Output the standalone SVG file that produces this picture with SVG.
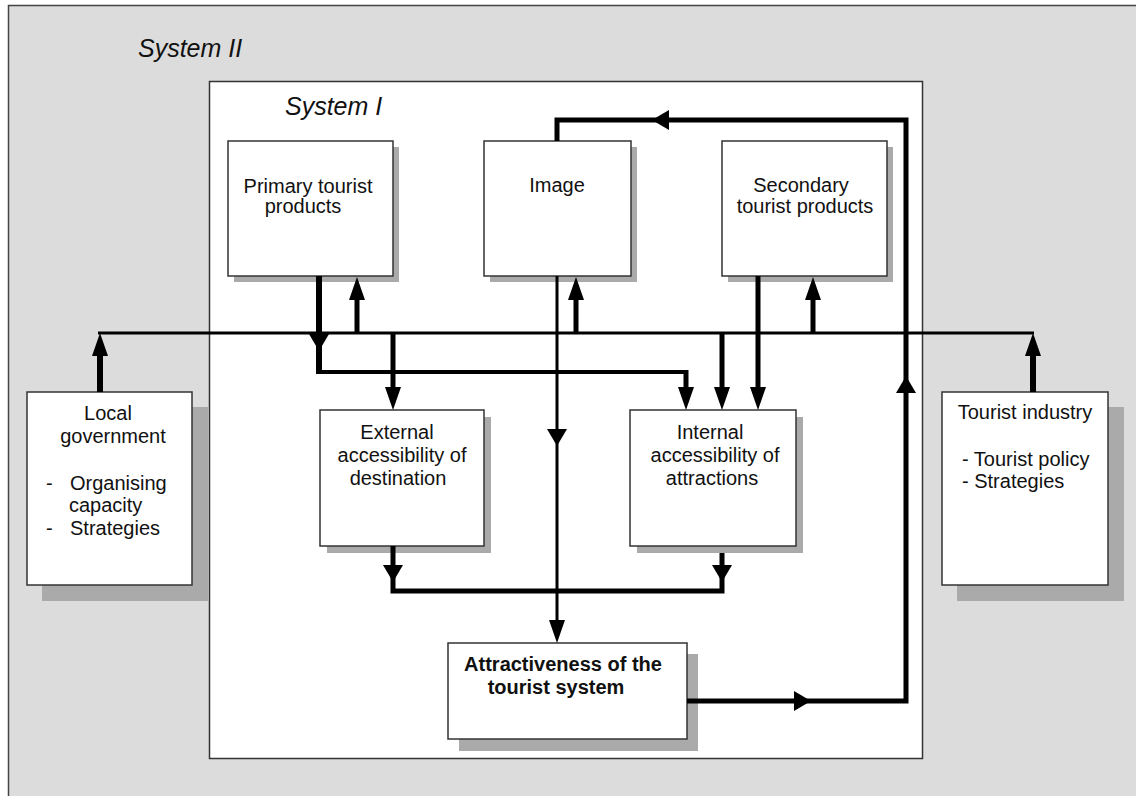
<svg xmlns="http://www.w3.org/2000/svg" xmlns:xlink="http://www.w3.org/1999/xlink" width="1136" height="796" viewBox="0 0 1136 796">
<style>
.t{font-family:"Liberation Sans",Arial,sans-serif;font-size:20px;fill:#111}
.m{text-anchor:middle}
.it{font-family:"Liberation Sans",Arial,sans-serif;font-size:25px;font-style:italic;fill:#111}
.b{font-family:"Liberation Sans",Arial,sans-serif;font-size:20px;font-weight:bold;fill:#111;text-anchor:middle}
.box{fill:#fff;stroke:#333;stroke-width:1.5}
.sh{fill:#aaaaaa}
.ln{stroke:#000;fill:none;stroke-linecap:butt}
</style>
<defs>
<path id="ah" d="M0,0 L-8,-23 L8,-23 Z" fill="#000"/>
<path id="am" d="M0,0 L-10,-17 L10,-17 Z" fill="#000"/>
</defs>
<rect x="8.5" y="5.5" width="1140" height="800" fill="#dcdcdc" stroke="#444" stroke-width="1.5"/>
<text class="it" x="138" y="57">System II</text>
<g id="system1">
<rect x="209.5" y="81.5" width="713" height="677" fill="#fff" stroke="#333" stroke-width="1.5"/>
<text class="it" x="285" y="115">System I</text>
</g>
<g id="primary">
<rect class="sh" x="234" y="147" width="165" height="135"/>
<rect class="box" x="228" y="141" width="165" height="135"/>
<text class="t m" x="308" y="193">Primary tourist</text>
<text class="t m" x="303" y="213">products</text>
</g>
<g id="image">
<rect class="sh" x="490" y="147" width="147" height="135"/>
<rect class="box" x="484" y="141" width="147" height="135"/>
<text class="t m" x="557" y="192">Image</text>
</g>
<g id="secondary">
<rect class="sh" x="728" y="147" width="165" height="135"/>
<rect class="box" x="722" y="141" width="165" height="135"/>
<text class="t m" x="801" y="192">Secondary</text>
<text class="t m" x="805" y="213">tourist products</text>
</g>
<g id="external">
<rect class="sh" x="327" y="417" width="164" height="136"/>
<rect class="box" x="320" y="410" width="164" height="136"/>
<text class="t m" x="397" y="439">External</text>
<text class="t m" x="402" y="462">accessibility of</text>
<text class="t m" x="398" y="485">destination</text>
</g>
<g id="internal">
<rect class="sh" x="637" y="417" width="166" height="136"/>
<rect class="box" x="630" y="410" width="166" height="136"/>
<text class="t m" x="710" y="439">Internal</text>
<text class="t m" x="715" y="462">accessibility of</text>
<text class="t m" x="712" y="485">attractions</text>
</g>
<g id="local">
<rect class="sh" x="42" y="407" width="166" height="194"/>
<rect class="box" x="27" y="392" width="165" height="193"/>
<text class="t m" x="108" y="420">Local</text>
<text class="t m" x="113" y="443">government</text>
<text class="t" x="46" y="490">-</text>
<text class="t" x="70" y="490">Organising</text>
<text class="t" x="69" y="512">capacity</text>
<text class="t" x="46" y="535">-</text>
<text class="t" x="70" y="535">Strategies</text>
</g>
<g id="industry">
<rect class="sh" x="957" y="407" width="167" height="194"/>
<rect class="box" x="942" y="392" width="166" height="193"/>
<text class="t m" x="1025" y="419">Tourist industry</text>
<text class="t" x="962" y="466">- Tourist policy</text>
<text class="t" x="962" y="488">- Strategies</text>
</g>
<g id="attractiveness">
<rect class="sh" x="459" y="654" width="239" height="97"/>
<rect class="box" x="448" y="643" width="239" height="96"/>
<text class="b" x="563" y="671">Attractiveness of the</text>
<text class="b" x="556" y="694">tourist system</text>
</g>
<g id="connectors">
<line class="ln" x1="98" y1="333" x2="1034" y2="333" stroke-width="3"/>
<line class="ln" x1="100" y1="392" x2="100" y2="352" stroke-width="6"/>
<use xlink:href="#ah" transform="translate(100,333) rotate(180)"/>
<line class="ln" x1="1033" y1="392" x2="1033" y2="352" stroke-width="6"/>
<use xlink:href="#ah" transform="translate(1033,333) rotate(180)"/>
<line class="ln" x1="319" y1="276" x2="319" y2="374" stroke-width="6"/>
<use xlink:href="#am" transform="translate(319,351)"/>
<line class="ln" x1="317" y1="372" x2="688" y2="372" stroke-width="4"/>
<line class="ln" x1="686" y1="370" x2="686" y2="390" stroke-width="5"/>
<use xlink:href="#ah" transform="translate(686,410)"/>
<line class="ln" x1="357" y1="333" x2="357" y2="296" stroke-width="5"/>
<use xlink:href="#ah" transform="translate(357,277) rotate(180)"/>
<line class="ln" x1="393" y1="333" x2="393" y2="390" stroke-width="5"/>
<use xlink:href="#ah" transform="translate(393,410)"/>
<line class="ln" x1="557" y1="276" x2="557" y2="625" stroke-width="3"/>
<use xlink:href="#am" transform="translate(557,446)"/>
<use xlink:href="#ah" transform="translate(557,643)"/>
<line class="ln" x1="576" y1="333" x2="576" y2="296" stroke-width="5"/>
<use xlink:href="#ah" transform="translate(576,277) rotate(180)"/>
<path class="ln" d="M557,141 V120 H906 V701 H687" stroke-width="5" stroke-linejoin="miter"/>
<use xlink:href="#am" transform="translate(652,120) rotate(90)"/>
<use xlink:href="#am" transform="translate(906,376) rotate(180)"/>
<use xlink:href="#am" transform="translate(811,701) rotate(-90)"/>
<line class="ln" x1="758" y1="276" x2="758" y2="390" stroke-width="5"/>
<use xlink:href="#ah" transform="translate(758,410)"/>
<line class="ln" x1="813" y1="333" x2="813" y2="296" stroke-width="5"/>
<use xlink:href="#ah" transform="translate(813,277) rotate(180)"/>
<line class="ln" x1="722" y1="333" x2="722" y2="390" stroke-width="5"/>
<use xlink:href="#ah" transform="translate(722,410)"/>
<path class="ln" d="M393,546 V591 H722 V553" stroke-width="5"/>
<use xlink:href="#am" transform="translate(393,582)"/>
<use xlink:href="#am" transform="translate(722,582)"/>
</g>
</svg>
